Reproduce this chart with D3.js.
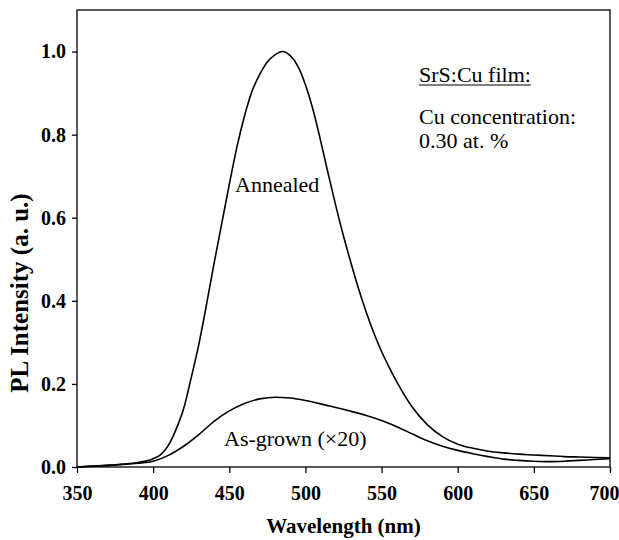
<!DOCTYPE html>
<html>
<head>
<meta charset="utf-8">
<script src="https://cdn.jsdelivr.net/npm/d3@7"></script>
<style>
  body { margin: 0; background: #fff; }
  svg { display: block; }
</style>
</head>
<body>
<svg></svg>
<script>
// wavelength (nm) and PL intensity
var wavelength = [350, 360, 370, 380, 390, 400, 405, 410, 415, 420, 425, 430, 435, 440, 445, 450, 455, 460,
  465, 470, 475, 480, 485, 490, 495, 500, 505, 510, 515, 520, 525, 530, 535, 540, 545, 550, 555, 560,
  570, 580, 590, 600, 610, 620, 630, 640, 650, 660, 670, 680, 690, 700];
var annealed = [0.000, 0.002, 0.004, 0.007, 0.011, 0.020, 0.030, 0.052, 0.090, 0.140, 0.215, 0.295, 0.390,
  0.490, 0.585, 0.680, 0.770, 0.845, 0.905, 0.945, 0.975, 0.992, 1.000, 0.990, 0.965, 0.920, 0.860, 0.785,
  0.705, 0.628, 0.556, 0.490, 0.428, 0.372, 0.322, 0.278, 0.240, 0.205, 0.145, 0.102, 0.073, 0.055, 0.045,
  0.038, 0.034, 0.031, 0.029, 0.027, 0.025, 0.024, 0.023, 0.022];

var grownWl = [350, 360, 370, 380, 390, 400, 410, 420, 430, 440, 450, 460, 470, 480, 490, 500, 510, 520,
  530, 540, 550, 560, 570, 580, 590, 600, 610, 620, 630, 640, 650, 660, 670, 680, 690, 700];
var asGrown = [0.000, 0.002, 0.004, 0.006, 0.009, 0.014, 0.028, 0.050, 0.078, 0.110, 0.135, 0.153, 0.164,
  0.168, 0.166, 0.160, 0.152, 0.143, 0.134, 0.124, 0.112, 0.097, 0.080, 0.063, 0.050, 0.040, 0.032, 0.025,
  0.019, 0.016, 0.014, 0.013, 0.014, 0.016, 0.018, 0.020];

var xTicks = [350, 400, 450, 500, 550, 600, 650, 700];
var yTicks = [0.0, 0.2, 0.4, 0.6, 0.8, 1.0];

var W = 619, H = 540;
var pL = 77, pR = 610, pT = 10, pB = 467;

var svg = d3.select('svg').attr('width', W).attr('height', H);

var x = d3.scaleLinear().domain([350, 700]).range([pL, pR]);
var y = d3.scaleLinear().domain([0, 1.1]).range([pB, pT]);

// frame
svg.append('rect')
   .attr('x', pL).attr('y', pT)
   .attr('width', pR - pL).attr('height', pB - pT)
   .attr('fill', 'none').attr('stroke', 'black').attr('stroke-width', 1.3);

var xAxis = svg.append('g')
   .attr('transform', 'translate(0,' + pB + ')')
   .call(d3.axisBottom(x).tickValues(xTicks).tickSize(6).tickPadding(13).tickFormat(d3.format('d')));
var yAxis = svg.append('g')
   .attr('transform', 'translate(' + pL + ',0)')
   .call(d3.axisLeft(y).tickValues(yTicks).tickSize(5).tickPadding(6).tickFormat(d3.format('.1f')));

[xAxis, yAxis].forEach(function(g){
  g.select('.domain').remove();
  g.selectAll('line').attr('stroke', 'black').attr('stroke-width', 1.3);
  g.selectAll('text')
   .attr('fill', 'black')
   .attr('font-family', 'Liberation Serif')
   .attr('font-weight', 'bold')
   .attr('font-size', '20px');
});
// last label sits against the page edge
xAxis.selectAll('.tick text').filter(d => d === 700).attr('dx', '-6');

var line = d3.line()
   .x(d => x(d[0]))
   .y(d => y(d[1]))
   .curve(d3.curveMonotoneX);

svg.append('path')
   .datum(wavelength.map((w, i) => [w, annealed[i]]))
   .attr('d', line)
   .attr('fill', 'none').attr('stroke', 'black').attr('stroke-width', 1.6);
svg.append('path')
   .datum(grownWl.map((w, i) => [w, asGrown[i]]))
   .attr('d', line)
   .attr('fill', 'none').attr('stroke', 'black').attr('stroke-width', 1.6);

// axis titles
svg.append('text')
   .text('Wavelength (nm)')
   .attr('x', (pL + pR) / 2).attr('y', 533)
   .attr('text-anchor', 'middle')
   .attr('font-family', 'Liberation Serif').attr('font-weight', 'bold').attr('font-size', '21px');
svg.append('text')
   .text('PL Intensity (a. u.)')
   .attr('transform', 'translate(28,293) rotate(-90)')
   .attr('text-anchor', 'middle')
   .attr('font-family', 'Liberation Serif').attr('font-weight', 'bold').attr('font-size', '25px');

// annotations
function note(t, px, py){
  return svg.append('text')
     .text(t)
     .attr('x', px).attr('y', py)
     .attr('font-family', 'Liberation Serif')
     .attr('font-size', '22px')
     .attr('fill', 'black');
}
note('Annealed', 235, 192);
note('As-grown (\u00d720)', 224, 446);
var title = note('SrS:Cu film:', 419, 82);
var tb = title.node().getBBox();
svg.append('line')
   .attr('x1', tb.x).attr('x2', tb.x + tb.width)
   .attr('y1', 85).attr('y2', 85)
   .attr('stroke', 'black').attr('stroke-width', 1.2);
note('Cu concentration:', 419, 124);
note('0.30 at. %', 419, 148);
</script>
</body>
</html>
